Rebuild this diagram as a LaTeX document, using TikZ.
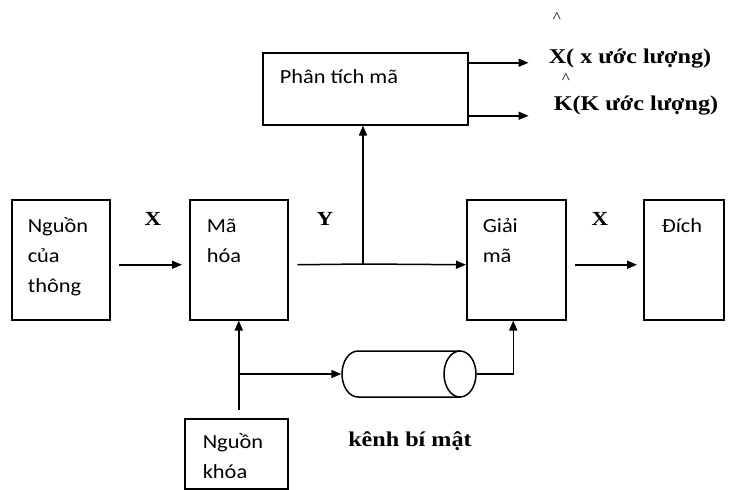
\documentclass[tikz,border=0pt]{standalone}
\usepackage{fontspec}
\usetikzlibrary{arrows.meta,calc}
\newfontfamily\calf[FakeStretch=1.12]{Carlito}
\newfontfamily\tmsf[FakeStretch=1.15]{Liberation Serif}
\begin{document}
\begin{tikzpicture}[x=1pt,y=-1pt,line width=1.5pt,
  box/.style={draw,line width=1.5pt,inner sep=0pt,anchor=north west},
  txt/.style={inner sep=0pt,anchor=base west,font=\calf\fontsize{20}{24}\selectfont},
  lab/.style={inner sep=0pt,anchor=base west,font=\tmsf\bfseries\fontsize{21}{25}\selectfont},
  midlab/.style={inner sep=0pt,anchor=base,font=\tmsf\bfseries\fontsize{20}{24}\selectfont},
  hat/.style={inner sep=0pt,anchor=base,font=\tmsf\fontsize{15}{17}\selectfont},
  arr/.style={-{Triangle[length=10pt,width=8pt]}}]
\useasboundingbox (0,0) rectangle (737,490);
% boxes
\node[box,minimum width=98pt,minimum height=120pt] (src) at (11,199) {};
\node[box,minimum width=98pt,minimum height=120pt] (enc) at (189,199) {};
\node[box,minimum width=99pt,minimum height=120pt] (dec) at (466,199) {};
\node[box,minimum width=80pt,minimum height=120pt] (dst) at (643,199) {};
\node[box,minimum width=205pt,minimum height=72pt] (ana) at (262,52) {};
\node[box,minimum width=103pt,minimum height=70pt] (key) at (184,418) {};
% channel (cylinder)
\node[inner sep=0pt,minimum width=134pt,minimum height=46pt] (chan) at (409,374) {};
\draw (460,374) ellipse [x radius=16pt,y radius=23pt];
\draw (460,351) -- (358,351) arc[start angle=90,end angle=270,x radius=16pt,y radius=23pt] -- (460,397);
% box texts
\node[txt] (t1) at (27,232) {Nguồn};
\node[txt] (t2) at (27,262) {của};
\node[txt] (t3) at (27,292) {thông};
\node[txt] (t4) at (206,232) {Mã};
\node[txt] (t5) at (206,262) {hóa};
\node[txt] (t6) at (482,232) {Giải};
\node[txt] (t7) at (482,262) {mã};
\node[txt] (t8) at (661,232) {Đích};
\node[txt] (t9) at (279,83) {Phân tích mã};
\node[txt] (t10) at (202,448) {Nguồn};
\node[txt] (t11) at (202,478) {khóa};
% labels
\node[midlab] (lx1) at (153,225) {X};
\node[midlab] (ly) at (325,225) {Y};
\node[midlab] (lx2) at (600,225) {X};
\node[lab] (lxe) at (548,63) {X( x ước lượng)};
\node[lab] (lke) at (553,110) {K(K ước lượng)};
\node[hat] (h1) at (557,22) {\textasciicircum};
\node[hat] (h2) at (566,83) {\textasciicircum};
\node[lab,anchor=base] (lch) at (410,446) {kênh bí mật};
% connectors
\coordinate (j) at (363,264);
\draw[arr] ([xshift=8pt,yshift=-5pt]src.east) -- ([xshift=-7pt,yshift=-5pt]enc.west);
\draw ([xshift=9pt,yshift=-5pt]enc.east) -- (j);
\draw[arr] (j) -- ([yshift=-5pt]dec.west);
\draw[arr] (j) -- (j |- ana.south);
\draw[arr] ([yshift=26pt]ana.east) -- ++(60,0);
\draw[arr] ([yshift=-27pt]ana.east) -- ++(60,0);
\draw[arr] ([xshift=8pt,yshift=-5pt]dec.east) -- ([xshift=-6pt,yshift=-5pt]dst.west);
\coordinate (kb) at ($(key.north -| enc.south)+(0,-8)$);
\coordinate (kj) at (enc.south |- chan.west);
\draw[arr] (kb) -- (enc.south);
\draw[arr] (kj) -- (chan.west);
\draw[arr] (chan.east) -| ([xshift=-3pt]dec.south);
\end{tikzpicture}
\end{document}
